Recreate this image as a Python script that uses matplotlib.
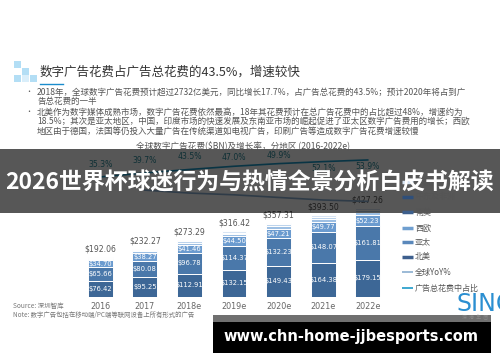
#全球数字广告花费 - 幻灯片截图复刻

import matplotlib.pyplot as plt
from matplotlib.patches import Rectangle

plt.rcParams['font.family'] = ['Noto Sans CJK SC', 'DejaVu Sans']

#数据
years = ['2016', '2017', '2018e', '2019e', '2020e', '2021e', '2022e']
north_america = [76.42, 95.25, 112.91, 132.15, 149.43, 164.38, 179.15]
asia_pacific = [65.66, 80.08, 96.78, 114.37, 132.23, 148.07, 161.81]
western_europe = [34.70, 38.27, 41.46, 44.50, 47.21, 49.77, 52.23]
latin_america = [6.9, 8.4, 9.9, 11.4, 12.8, 14.1, 15.3]
mid_east_africa = [4.6, 5.6, 6.7, 7.6, 8.5, 9.4, 10.2]
central_europe = [3.78, 4.67, 5.54, 6.40, 7.14, 7.78, 8.57]
totals = [192.06, 232.27, 273.29, 316.42, 357.31, 393.50, 427.26]
yoy = [20.9, 17.7, 15.8, 12.9, 10.1, 8.6]   # 2017-2022e
share = [35.3, 39.7, 43.5, 47.0, 49.9, 52.1, 53.9]

series = [('北美', north_america, '#3d6796'),
          ('亚太', asia_pacific, '#4a78aa'),
          ('西欧', western_europe, '#6b9bcf'),
          ('南美', latin_america, '#9dbfe3'),
          ('中东及非洲', mid_east_africa, '#bcd3ec'),
          ('中东欧', central_europe, '#d8e5f4')]

W, H = 500, 362
fig = plt.figure(figsize=(5, 3.62), dpi=100)
fig.patch.set_facecolor('white')

#柱状图
ax = fig.add_axes([78 / W, 1 - 297 / H, 312 / W, 147 / H])
x = list(range(len(years)))
bottom = [0] * len(years)
for i, (name, vals, col) in enumerate(series):
    ax.bar(x, vals, 0.56, bottom=bottom, color=col, edgecolor='white', linewidth=0.7)
    if i < 3:
        for xi, b, v in zip(x, bottom, vals):
            ax.text(xi, b + v / 2, '$%.2f' % v, ha='center', va='center',
                    fontsize=4.9, color='white', family='DejaVu Sans')
    bottom = [b + v for b, v in zip(bottom, vals)]
for xi, t in zip(x, totals):
    ax.annotate('$%.2f' % t, (xi, t), xytext=(0, 2.5), textcoords='offset points',
                ha='center', va='bottom', fontsize=5.6, color='#555555', family='DejaVu Sans')
for xi, y in zip(x, years):
    ax.text(xi, -22, y, ha='center', va='top', fontsize=5.8, color='#666666', family='DejaVu Sans')
ax.set_xlim(-0.5, 6.5)
ax.set_ylim(0, 707)
ax.axis('off')

#折线
ax2 = ax.twinx()
ax2.set_ylim(-96, 64.8)
ax2.plot(x[1:], yoy, color='#8aaed0', lw=1.2)
ax2.plot(x, share, color='#1d9ac8', lw=1.2)
for i, (xi, s) in enumerate(zip(x, share)):
    if i < 3:
        dy = 9
    elif i < 5:
        dy = 6
    else:
        dy = -5
    ax2.annotate('%.1f%%' % s, (xi, s), xytext=(0, dy), textcoords='offset points',
                 ha='center', va='center', fontsize=5.6, color='#2a8a9a', family='DejaVu Sans')
ax2.axis('off')

#装饰层（像素坐标）
deco = fig.add_axes([0, 0, 1, 1], zorder=5)
deco.set_xlim(0, W)
deco.set_ylim(H, 0)
deco.axis('off')

#标题
for sx, sy, c in [(14, 61, '#b3def5'), (22, 68, '#b3def5'), (14, 75, '#b3def5'),
                  (22, 75, '#d9eefa'), (30, 75, '#b3def5')]:
    deco.add_patch(Rectangle((sx, sy), 7, 7, color=c, lw=0))
deco.text(40, 72, '数字广告花费占广告总花费的43.5%，增速较快', fontsize=9.0,
          color='#333333', va='center')
deco.plot([40, 63], [84, 84], color='#1a8ccc', lw=1)

bullets = ['2018年，全球数字广告花费预计超过2732亿美元，同比增长17.7%，占广告总花费的43.5%；预计2020年将占到广',
           '告总花费的一半',
           '北美作为数字媒体成熟市场，数字广告花费依然最高，18年其花费预计在总广告花费中的占比超过48%，增速约为',
           '18.5%；其次是亚太地区，中国，印度市场的快速发展及东南亚市场的崛起促进了亚太区数字广告费用的增长；西欧',
           '地区由于德国，法国等仍投入大量广告在传统渠道如电视广告，印刷广告等造成数字广告花费增速较慢']
for i, (line, ly) in enumerate(zip(bullets, [92, 101.5, 112, 121.5, 131.5])):
    deco.text(37, ly, line, fontsize=6.15, color='#555555', va='center')
    if i in (0, 2):
        deco.text(29, ly, '•', fontsize=5, color='#555555', va='center', ha='center')

deco.text(243, 146, '全球数字广告花费($BN)及增长率，分地区 (2016-2022e)', fontsize=6.2,
          color='#555555', ha='center', va='center')

#图例
legend_items = [('中东欧', '#d8e5f4', 182, 2.5), ('中东及非洲', '#2f4f7a', 197, 2.5),
                ('南美', '#3d5f8c', 212, 2.5), ('西欧', '#6f9fd0', 228, 2.5),
                ('亚太', '#5a88bb', 242, 2.5), ('北美', '#3d5f8e', 257, 2.5),
                ('全球YoY%', '#8aaed0', 272, 1.2), ('广告总花费中占比', '#1d9ac8', 288, 1.2)]
for name, col, ly, lw in legend_items:
    deco.plot([402, 413], [ly, ly], color=col, lw=lw, solid_capstyle='butt')
    deco.text(415, ly, name, fontsize=5.8, color='#555555', va='center')

#来源
deco.text(13, 306, 'Source: 深圳智库', fontsize=4.7, color='#777777', va='center')
deco.text(13, 315, 'Note: 数字广告包括在移动端/PC端等联网设备上所有形式的广告', fontsize=4.6,
          color='#777777', va='center')

#标志
deco.text(456, 304, 'SINO', fontsize=17, color='#2b8fd1', va='center',
          family=['Liberation Sans Narrow', 'DejaVu Sans'])
deco.text(475, 318, '深  港  集  团', fontsize=3.5, color='#888888', va='center', ha='center')

#横幅
deco.add_patch(Rectangle((0, 148.5), W, 64.5, color='black', alpha=0.66, lw=0))
deco.text(250, 183, '2026世界杯球迷行为与热情全景分析白皮书解读', fontsize=16.5,
          fontweight='bold', color='white', ha='center', va='center')

#网址
deco.add_patch(Rectangle((213, 315), 278, 7, color='#707070', lw=0))
deco.add_patch(Rectangle((213, 322), 278, 31, color='black', lw=0))
deco.text(351, 337, 'www.chn-home-jjbesports.com', fontsize=10.5, fontweight='bold',
          color='white', ha='center', va='center', family='DejaVu Sans')

plt.savefig('out.png', dpi=100)
